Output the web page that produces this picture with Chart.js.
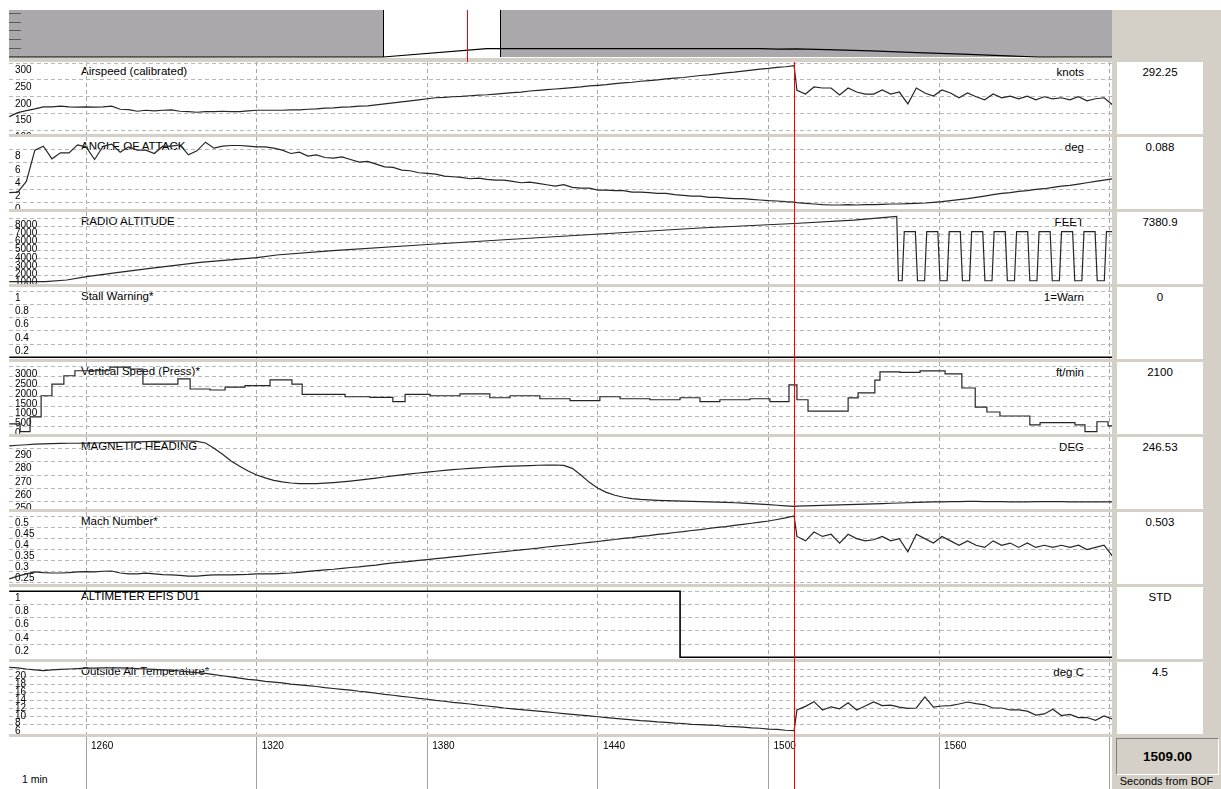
<!DOCTYPE html>
<html lang="en">
<head>
<meta charset="utf-8">
<title>Flight data replay</title>
<script src="https://cdn.jsdelivr.net/npm/chart.js@4.4.1/dist/chart.umd.min.js"></script>
<style>
  html, body { margin: 0; padding: 0; background: #fff; }
  body { position: relative; width: 1221px; height: 789px; overflow: hidden;
         font-family: "Liberation Sans", Arial, sans-serif; color: #000; }
  canvas { position: absolute; z-index: 2; }
  .ptitle, .punit { position: absolute; z-index: 1; font-size: 11.5px; line-height: 13px; white-space: nowrap; }
  .ptitle { left: 81px; }
  .punit { right: 137px; text-align: right; }
  #sidebar { position: absolute; left: 1112px; top: 10px; width: 109px; height: 779px; background: #d4d0c8; z-index: 0; }
  .readout { position: absolute; left: 1117px; width: 86px; height: 72px; background: #fff; z-index: 1;
             text-align: center; font-size: 11.5px; line-height: 13px; }
  .readout span { display: block; margin-top: 4px; }
  #cursorBox { position: absolute; left: 1116px; top: 738px; width: 101px; height: 35px; background: #d4d0c8;
               border: 1px solid; border-color: #808080 #ffffff #ffffff #808080; z-index: 1;
               font-weight: bold; font-size: 13.5px; line-height: 35px; text-align: center; }
  #cursorCaption { position: absolute; left: 1112px; width: 109px; top: 775px; font-size: 11px; line-height: 13px;
                   text-align: center; z-index: 1; }
  #scaleNote { position: absolute; left: 22px; top: 773px; font-size: 10.5px; line-height: 13px; z-index: 1; }
</style>
</head>
<body>
<div id="sidebar"></div>
<div id="cursorBox">1509.00</div>
<div id="cursorCaption">Seconds from BOF</div>
<div id="scaleNote">1 min</div>
<script>
// ---------------- time base (seconds from beginning of file) ----------------
const X_MIN = 1232.9, X_MAX = 1620.8;
const CURSOR_T = 1509;
const VIEW_START = 1233, VIEW_END = 1620;
const OV_MIN = -5, OV_MAX = 3645;
const xTicks = [1260, 1320, 1380, 1440, 1500, 1560, 1620];

// regular sample instants: every 3 s up to the cursor, then every 3 s after it
const sampleTimes = [];
for (let t = 1233; t <= 1509; t += 3) sampleTimes.push(t);
for (let t = 1510; t <= 1621; t += 3) sampleTimes.push(t);

// ---------------- recorded parameters ----------------
const airspeed = [
  141,153,159,164,170,170,172,170,169,170,
  169,170,172,163,162,157,160,158,160,161,
  157,156,154,156,156,157,156,156,158,160,
  160,160,160,161,161,163,164,166,167,169,
  170,172,173,176,179,182,185,188,191,194,
  197,198,200,201,203,205,206,208,210,212,
  214,217,219,221,223,225,227,229,232,234,
  236,239,241,243,246,248,250,253,255,257,
  260,263,265,268,271,273,276,279,282,284,
  287,289,292.25,
  219,208,229,226,226,205,226,214,208,208,
  220,208,214,179,226,211,202,220,211,197,
  211,200,191,208,197,202,194,202,191,200,
  194,197,191,200,188,194,197,176
];

const angleOfAttack = [
  1.5,1.6,3.2,7.9,8.5,6.6,7.5,7.5,8.7,8.4,
  6.5,8.5,8.8,7.6,8.4,7.9,7.9,7.4,8.5,8.5,
  8.7,7.2,7.8,9.1,8.2,8.5,8.6,8.6,8.5,8.4,
  8.4,8.2,7.9,7.4,7.6,7.0,7.2,6.8,6.7,6.9,
  6.5,6.1,6.2,5.8,5.4,5.3,4.9,4.8,4.5,4.4,
  4.3,4.0,3.9,3.8,3.6,3.7,3.5,3.4,3.4,3.2,
  3.0,3.1,2.9,2.7,2.5,2.7,2.3,2.2,2.2,1.9,
  1.9,1.8,1.8,1.6,1.6,1.5,1.4,1.4,1.2,1.1,
  1.0,1.0,0.8,0.8,0.7,0.6,0.6,0.5,0.4,0.3,
  0.25,0.15,0.088,
  0.0,-0.1,-0.2,-0.3,-0.35,-0.35,-0.3,-0.35,-0.3,-0.3,
  -0.25,-0.2,-0.2,-0.15,-0.1,-0.05,0.05,0.15,0.3,0.45,
  0.6,0.8,1.0,1.2,1.4,1.5,1.7,1.8,2.0,2.1,
  2.3,2.5,2.6,2.8,3.0,3.2,3.4,3.6
];

const radAltTimes = [
  1233,1245.6,1253.2,1260.2,1270.8,1282.5,1300.1,1320.1,1327.0,1346.8,
  1377.4,1405.6,1440.7,1475.9,1509,1530,1545.1,1545.7,
  1547.0,1547.75,1551.65,1552.4,
  1554.9,1555.65,1559.55,1560.3,
  1562.8,1563.55,1567.45,1568.2,
  1570.7,1571.45,1575.35,1576.1,
  1578.6,1579.35,1583.25,1584.0,
  1586.5,1587.25,1591.15,1591.9,
  1594.4,1595.15,1599.05,1599.8,
  1602.3,1603.05,1606.95,1607.7,
  1610.2,1610.95,1614.85,1615.6,
  1618.1,1618.85,1622.75
];
const radioAltitude = [
  170,175,381,790,1285,1830,2574,3144,3478,4011,
  4717,5337,6080,6823,7380.9,7800,8250,290,
  290,6365,6365,290,
  290,6365,6365,290,
  290,6365,6365,290,
  290,6365,6365,290,
  290,6365,6365,290,
  290,6365,6365,290,
  290,6365,6365,290,
  290,6365,6365,290,
  290,6365,6365,290,
  290,6365,6365
];

const stallTimes = [1233, 1621];
const stallWarning = [0, 0];

const vsTimes = [
  1233,1236.8,1240.3,1244.2,1248.0,1252.2,1256.1,1268.4,1275.5,1280.0,
  1292.3,1296.6,1303.6,1308.9,1315.9,1324.7,1332.4,1336.0,1351.1,1359.9,
  1367.9,1372.2,1381.0,1391.5,1402.0,1409.1,1419.6,1430.2,1440.7,1447.8,
  1458.3,1468.9,1475.9,1482.9,1493.5,1500.5,1507.2,1510.0,1513.9,1528.0,
  1531.5,1537.4,1539.2,1546.2,1553.3,1562.1,1568.0,1572.7,1576.8,1581.4,
  1591.9,1595.5,1607.8,1611.3,1615.5,1619.4,1621
];
const verticalSpeed = [
  130,-260,490,1550,2140,2560,2810,2990,2900,2140,
  2400,1890,1840,1990,2060,2350,2140,1620,1500,1470,
  1250,1620,1550,1650,1450,1550,1400,1300,1500,1400,
  1350,1450,1250,1350,1400,1250,2100,1350,780,1440,
  1700,2340,2750,2730,2800,2650,1940,980,730,530,
  80,200,80,-260,240,30,30
];

const heading = [
  291.9,292.3,292.7,293.1,293.4,293.6,293.7,293.8,293.8,293.9,
  294.0,294.2,294.3,294.5,294.7,294.8,295.0,295.2,295.3,295.4,
  295.5,295.5,295.2,294.0,290.0,285.5,280.5,276.5,273.0,270.0,
  267.8,266.0,264.8,264.0,263.6,263.5,263.6,263.9,264.3,264.8,
  265.4,266.1,266.9,267.7,268.5,269.3,270.1,270.8,271.5,272.2,
  272.8,273.4,274.0,274.5,275.0,275.4,275.8,276.1,276.4,276.7,
  276.9,277.1,277.3,277.4,277.5,277.2,275.0,270.0,264.5,260.0,
  257.0,254.8,253.3,252.3,251.7,251.3,251.0,250.8,250.6,250.4,
  250.2,250.0,249.8,249.6,249.4,249.2,248.9,248.6,248.2,247.8,
  247.3,246.9,246.53,
  246.6,246.8,247.0,247.2,247.4,247.6,247.8,248.0,248.2,248.4,
  248.6,248.8,249.0,249.2,249.4,249.6,249.8,249.9,250.0,250.1,
  250.2,250.2,250.1,250.0,250.0,249.9,249.9,249.9,250.0,250.0,
  250.0,250.0,249.9,249.9,249.9,249.9,249.9,249.9
];

const machNumber = [
  0.217,0.230,0.240,0.249,0.246,0.244,0.244,0.246,0.249,0.250,
  0.249,0.252,0.253,0.244,0.240,0.240,0.243,0.240,0.237,0.235,
  0.233,0.230,0.230,0.233,0.235,0.235,0.235,0.237,0.238,0.240,
  0.240,0.240,0.242,0.244,0.247,0.251,0.255,0.258,0.261,0.265,
  0.269,0.272,0.276,0.280,0.285,0.290,0.293,0.297,0.301,0.305,
  0.309,0.313,0.317,0.321,0.325,0.329,0.333,0.337,0.341,0.345,
  0.349,0.353,0.357,0.362,0.366,0.370,0.374,0.379,0.383,0.387,
  0.392,0.396,0.401,0.405,0.410,0.414,0.419,0.423,0.428,0.432,
  0.437,0.441,0.446,0.451,0.455,0.460,0.465,0.470,0.475,0.480,
  0.487,0.494,0.503,
  0.41,0.39,0.43,0.41,0.42,0.38,0.42,0.40,0.39,0.395,
  0.41,0.39,0.40,0.34,0.42,0.40,0.38,0.41,0.39,0.37,
  0.39,0.37,0.36,0.39,0.37,0.38,0.36,0.38,0.36,0.37,
  0.36,0.37,0.36,0.37,0.35,0.36,0.37,0.32
];

const altimTimes = [1233, 1468.9, 1621];
const altimeterSel = [1, 0, 0];

const outsideAirTemp = [
  20.4,20.3,20.0,19.8,19.6,19.8,19.9,20.0,20.1,20.2,
  20.2,20.3,20.3,20.3,20.2,20.1,20.0,19.9,19.8,19.7,
  19.5,19.3,19.1,18.9,18.6,18.3,18.0,17.7,17.4,17.2,
  16.9,16.7,16.5,16.2,16.0,15.8,15.6,15.3,15.1,14.9,
  14.7,14.4,14.2,13.9,13.6,13.4,13.1,12.9,12.6,12.4,
  12.1,11.9,11.6,11.4,11.2,10.9,10.7,10.5,10.2,10.0,
  9.8,9.6,9.4,9.2,9.0,8.8,8.6,8.4,8.2,8.0,
  7.8,7.6,7.4,7.2,7.0,6.9,6.7,6.6,6.4,6.3,
  6.1,6.0,5.9,5.8,5.6,5.5,5.4,5.2,5.1,4.9,
  4.8,4.6,4.5,
  9.7,10.6,11.8,9.7,10.5,10.0,11.5,9.7,10.7,11.7,
  10.8,10.9,10.4,10.1,10.2,13.0,10.4,10.7,10.8,11.2,
  11.7,11.3,11.0,10.2,10.2,9.7,9.7,9.4,8.4,8.7,
  9.9,8.3,8.6,7.8,7.8,7.1,8.2,7.4
];

// whole-flight overview (pressure altitude, ft)
const overviewTimes = [-5, 1233, 1576, 2480, 2540, 2600, 2700, 2850, 3000, 3150, 3300, 3400, 3645];
const overviewAlt   = [0, 0, 9500, 9500, 8800, 9200, 8300, 6800, 5000, 3200, 1200, 0, 0];
const overviewTicks = [10000, 20000, 30000, 40000, 50000];

// ---------------- tick values per panel ----------------
const airspeedTicks = [100, 150, 200, 250, 300];
const aoaTicks      = [0, 2, 4, 6, 8];
const radAltTicks   = [1000, 2000, 3000, 4000, 5000, 6000, 7000, 8000];
const discreteTicks = [0.2, 0.4, 0.6, 0.8, 1];
const vsTicks       = [0, 500, 1000, 1500, 2000, 2500, 3000];
const headingTicks  = [250, 260, 270, 280, 290];
const machTicks     = [0.2, 0.25, 0.3, 0.35, 0.4, 0.45, 0.5];
const oatTicks      = [6, 8, 10, 12, 14, 16, 18, 20];

// ---------------- labels ----------------
const panelTitles = ['Airspeed (calibrated)', 'ANGLE OF ATTACK', 'RADIO ALTITUDE', 'Stall Warning*',
  'Vertical Speed (Press)*', 'MAGNETIC HEADING', 'Mach Number*', 'ALTIMETER EFIS DU1', 'Outside Air Temperature*'];
const panelUnits = ['knots', 'deg', 'FEET', '1=Warn', 'ft/min', 'DEG', '', '', 'deg C'];
const cursorReadouts = ['292.25', '0.088', '7380.9', '0', '2100', '246.53', '0.503', 'STD', '4.5'];

// ---------------- layout ----------------
const PANEL_LEFT = 9, PANEL_WIDTH = 1103, PANEL_TOP = 62, PANEL_H = 72, SEP_H = 3, PITCH = PANEL_H + SEP_H;
const FONT = '"Liberation Sans", Arial, sans-serif';
const SEP_COLOR = '#d4d0c8';
const CURSOR_COLOR = '#ff0000';

const panelDefs = [
  { times: sampleTimes, values: airspeed,       min: 89.6,   max: 303,   ticks: airspeedTicks },
  { times: sampleTimes, values: angleOfAttack,  min: -0.95,  max: 9.88,  ticks: aoaTicks },
  { times: radAltTimes, values: radioAltitude,  min: -115,   max: 8805,  ticks: radAltTicks },
  { times: stallTimes,  values: stallWarning,   min: -0.026, max: 1.065, ticks: discreteTicks, heavy: true },
  { times: vsTimes,     values: verticalSpeed,  min: -378,   max: 3252,  ticks: vsTicks, stepped: true },
  { times: sampleTimes, values: heading,        min: 244.5,  max: 298.5, ticks: headingTicks },
  { times: sampleTimes, values: machNumber,     min: 0.194,  max: 0.521, ticks: machTicks },
  { times: altimTimes,  values: altimeterSel,   min: -0.026, max: 1.065, ticks: discreteTicks, heavy: true, stepped: true },
  { times: sampleTimes, values: outsideAirTemp, min: 3.66,   max: 21.76, ticks: oatTicks }
];

function makeCanvas(left, top, w, h) {
  const cv = document.createElement('canvas');
  cv.width = w; cv.height = h;
  cv.style.left = left + 'px'; cv.style.top = top + 'px';
  document.body.appendChild(cv);
  return cv;
}
function addText(cls, top, text) {
  const d = document.createElement('div');
  d.className = cls; d.style.top = top + 'px'; d.textContent = text;
  document.body.appendChild(d);
  return d;
}
function drawCursor(chart, y0, y1) {
  const { ctx } = chart;
  const cx = Math.round(chart.scales.x.getPixelForValue(CURSOR_T)) + 0.5;
  ctx.save();
  ctx.strokeStyle = CURSOR_COLOR; ctx.lineWidth = 1;
  ctx.beginPath(); ctx.moveTo(cx, y0); ctx.lineTo(cx, y1); ctx.stroke();
  ctx.restore();
}
// axes sit inside the plot: no room reserved for them or for label overhang
function flattenX(s) { s.height = 0; s.paddingLeft = 0; s.paddingRight = 0; s.paddingTop = 0; s.paddingBottom = 0; }
function flattenY(s) { s.width = 0; s.paddingLeft = 0; s.paddingRight = 0; s.paddingTop = 0; s.paddingBottom = 0; }

// separator band under each panel plus the time cursor
const panelDecor = {
  id: 'panelDecor',
  afterDraw(chart) {
    const { ctx, chartArea: a, width, height } = chart;
    ctx.save();
    ctx.fillStyle = SEP_COLOR;
    ctx.fillRect(0, a.bottom, width, height - a.bottom);
    ctx.restore();
    drawCursor(chart, 0, height);
  }
};

const baseOptions = () => ({
  responsive: false, animation: false, devicePixelRatio: 1, events: [],
  plugins: { legend: { display: false }, tooltip: { enabled: false } }
});

// ---------------- overview strip ----------------
const overviewDecor = {
  id: 'overviewDecor',
  beforeDatasetsDraw(chart) {
    const { ctx, chartArea: a, scales: { x, y } } = chart;
    const x0 = Math.round(x.getPixelForValue(VIEW_START));
    const x1 = Math.round(x.getPixelForValue(VIEW_END));
    ctx.save();
    ctx.fillStyle = '#aaa8ab';
    ctx.fillRect(a.left, a.top, x0 - a.left, a.bottom - a.top);
    ctx.fillRect(x1, a.top, a.right - x1, a.bottom - a.top);
    ctx.strokeStyle = '#5a5a5a'; ctx.lineWidth = 1;
    overviewTicks.forEach(v => {
      const py = Math.round(y.getPixelForValue(v)) + 0.5;
      ctx.beginPath(); ctx.moveTo(a.left, py); ctx.lineTo(a.left + 12, py); ctx.stroke();
    });
    ctx.strokeStyle = '#000';
    [x0, x1].forEach(px => {
      ctx.beginPath(); ctx.moveTo(px + 0.5, a.top); ctx.lineTo(px + 0.5, a.bottom); ctx.stroke();
    });
    ctx.restore();
  },
  afterDraw(chart) {
    const { ctx, chartArea: a, width, height } = chart;
    ctx.save();
    ctx.fillStyle = SEP_COLOR;
    ctx.fillRect(0, a.bottom + 1, width, height - a.bottom - 1);
    ctx.restore();
    drawCursor(chart, 0, height);
  }
};

const ovCanvas = makeCanvas(PANEL_LEFT, 10, PANEL_WIDTH, PANEL_TOP - 10);
new Chart(ovCanvas, {
  type: 'line',
  data: { datasets: [{
    data: overviewTimes.map((t, k) => ({ x: t, y: overviewAlt[k] })),
    borderColor: '#000', borderWidth: 1.2, pointRadius: 0, tension: 0, clip: false
  }] },
  options: Object.assign(baseOptions(), {
    layout: { padding: { left: 0, right: 0, top: 0, bottom: 5 } },
    scales: {
      x: { type: 'linear', min: OV_MIN, max: OV_MAX, display: false },
      y: { type: 'linear', min: 0, max: 53000, display: false }
    }
  }),
  plugins: [overviewDecor]
});

// ---------------- parameter panels ----------------
panelDefs.forEach((p, i) => {
  const top = PANEL_TOP + i * PITCH;
  const cv = makeCanvas(PANEL_LEFT, top, PANEL_WIDTH, PITCH);
  new Chart(cv, {
    type: 'line',
    data: { datasets: [{
      data: p.times.map((t, k) => ({ x: t, y: p.values[k] })),
      borderColor: p.heavy ? '#000' : '#262626',
      borderWidth: p.heavy ? 1.6 : 1.2,
      pointRadius: 0, tension: 0, fill: false,
      stepped: p.stepped ? true : false
    }] },
    options: Object.assign(baseOptions(), {
      layout: { padding: { left: 0, right: 0, top: 0, bottom: SEP_H } },
      scales: {
        x: {
          type: 'linear', min: X_MIN, max: X_MAX,
          afterBuildTicks: s => { s.ticks = xTicks.map(v => ({ value: v })); },
          afterFit: flattenX,
          ticks: { display: false, autoSkip: false },
          grid: { color: '#a8a8a8', lineWidth: 1, drawTicks: false },
          border: { display: false, dash: [4, 3] }
        },
        y: {
          type: 'linear', min: p.min, max: p.max,
          afterBuildTicks: s => { s.ticks = p.ticks.map(v => ({ value: v })); },
          afterFit: flattenY,
          ticks: {
            mirror: true, padding: 6, labelOffset: 7, autoSkip: false,
            color: '#000', font: { family: FONT, size: 10 },
            callback: v => String(v)
          },
          grid: { color: '#b8b8b8', lineWidth: 1, drawTicks: false },
          border: { display: false, dash: [4, 3] }
        }
      }
    }),
    plugins: [panelDecor]
  });

  addText('ptitle', top + 3, panelTitles[i]);
  if (panelUnits[i]) addText('punit', top + 4, panelUnits[i]);
  const box = addText('readout', top, '');
  const span = document.createElement('span');
  span.textContent = cursorReadouts[i];
  box.appendChild(span);
});

// ---------------- time axis ----------------
const axisDecor = {
  id: 'axisDecor',
  afterDraw(chart) {
    const { ctx, height } = chart;
    const sx = chart.scales.x;
    ctx.save();
    ctx.font = '10px ' + FONT;
    ctx.fillStyle = '#000';
    ctx.textAlign = 'left';
    ctx.textBaseline = 'middle';
    sx.ticks.forEach(t => {
      ctx.fillText(String(t.value), sx.getPixelForValue(t.value) + 5, 9);
    });
    ctx.restore();
    drawCursor(chart, 0, height);
  }
};
const axTop = PANEL_TOP + panelDefs.length * PITCH;
const axCanvas = makeCanvas(PANEL_LEFT, axTop, PANEL_WIDTH, 789 - axTop);
new Chart(axCanvas, {
  type: 'line',
  data: { datasets: [] },
  options: Object.assign(baseOptions(), {
    layout: { padding: 0 },
    scales: {
      x: {
        type: 'linear', min: X_MIN, max: X_MAX,
        afterBuildTicks: s => { s.ticks = xTicks.map(v => ({ value: v })); },
        afterFit: flattenX,
        ticks: { display: false, autoSkip: false },
        grid: { color: '#a0a0a0', lineWidth: 1, drawTicks: false },
        border: { display: false }
      },
      y: { type: 'linear', min: 0, max: 1, display: false }
    }
  }),
  plugins: [axisDecor]
});
</script>
</body>
</html>
